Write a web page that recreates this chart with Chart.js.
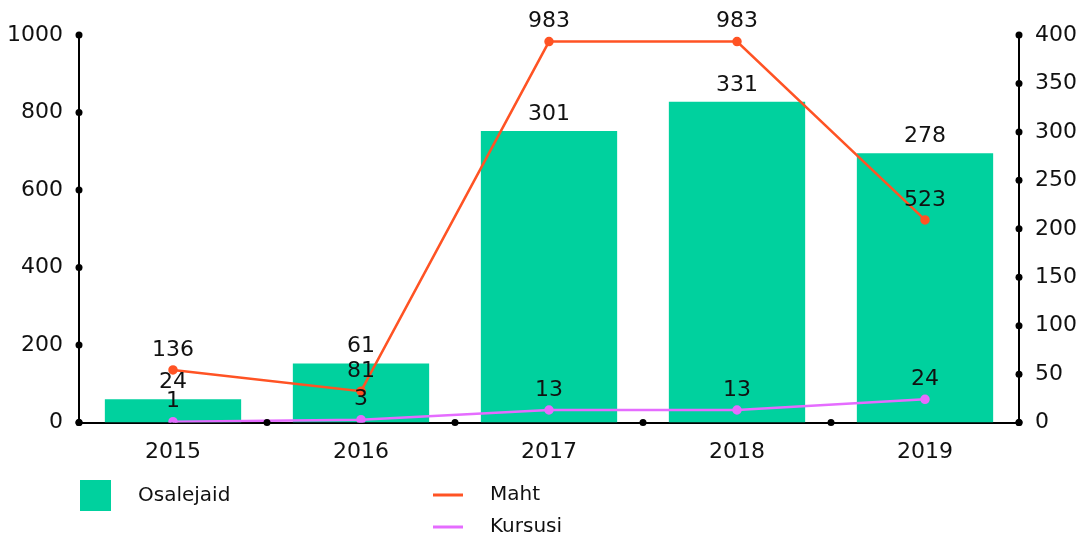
<!DOCTYPE html>
<html>
<head>
<meta charset="utf-8">
<script src="https://cdn.jsdelivr.net/npm/chart.js@4"></script>
<style>
  html, body { margin: 0; padding: 0; background: #fff; }
  #wrap { width: 1078px; height: 535px; position: relative; }
</style>
</head>
<body>
<div id="wrap"><canvas id="chart"></canvas></div>
<script>
const YEARS = ["2015", "2016", "2017", "2018", "2019"];
const OSALEJAID = [24, 61, 301, 331, 278];
const MAHT = [136, 81, 983, 983, 523];
const KURSUSI = [1, 3, 13, 13, 24];

const GREEN = "#00d19e";
const ORANGE = "#ff5324";
const PINK = "#e56cff";
const FONT = "'DejaVu Sans', sans-serif";

// draws the little black dots on the axis lines
const axisDots = {
  id: "axisDots",
  afterDraw(chart) {
    const { ctx, scales } = chart;
    ctx.save();
    ctx.fillStyle = "#000";
    const dot = (x, y) => {
      ctx.beginPath();
      ctx.arc(x, y, 3.5, 0, Math.PI * 2);
      ctx.fill();
    };
    const x = scales.x;
    const step = x.width / YEARS.length;
    for (let i = 0; i <= YEARS.length; i++) dot(x.left + i * step, x.top);
    scales.y.ticks.forEach((t) => dot(scales.y.right, scales.y.getPixelForValue(t.value)));
    scales.y1.ticks.forEach((t) => dot(scales.y1.left, scales.y1.getPixelForValue(t.value)));
    ctx.restore();
  },
};

// value labels above bars and points
const valueLabels = {
  id: "valueLabels",
  afterDatasetsDraw(chart) {
    const { ctx } = chart;
    ctx.save();
    ctx.font = "22px " + FONT;
    ctx.fillStyle = "#111";
    ctx.textAlign = "center";
    ctx.textBaseline = "middle";
    chart.data.datasets.forEach((ds, i) => {
      const meta = chart.getDatasetMeta(i);
      const off = ds.type === "bar" ? 17 : 20;
      meta.data.forEach((el, j) => {
        ctx.fillText(String(ds.data[j]), el.x, el.y - off);
      });
    });
    ctx.restore();
  },
};

// two-column legend under the chart
const bottomLegend = {
  id: "bottomLegend",
  afterDraw(chart) {
    const { ctx } = chart;
    ctx.save();
    ctx.font = "20px " + FONT;
    ctx.textBaseline = "middle";
    const ds = chart.data.datasets;
    ctx.fillStyle = ds[0].backgroundColor;
    ctx.fillRect(80, 480, 31, 31);
    ctx.fillStyle = "#111";
    ctx.fillText(ds[0].label, 138, 496);
    [[ds[1], 495], [ds[2], 527]].forEach(([d, y]) => {
      ctx.strokeStyle = d.borderColor;
      ctx.lineWidth = 3;
      ctx.beginPath();
      ctx.moveTo(433, y);
      ctx.lineTo(463, y);
      ctx.stroke();
      ctx.fillStyle = "#111";
      ctx.fillText(d.label, 490, y);
    });
    ctx.restore();
  },
};

const tickFont = { family: FONT, size: 22 };

new Chart(document.getElementById("chart"), {
  data: {
    labels: YEARS,
    datasets: [
      {
        type: "bar",
        label: "Osalejaid",
        data: OSALEJAID,
        backgroundColor: GREEN,
        yAxisID: "y1",
        barPercentage: 0.725,
        categoryPercentage: 1,
        order: 3,
      },
      {
        type: "line",
        label: "Maht",
        data: MAHT,
        borderColor: ORANGE,
        backgroundColor: ORANGE,
        borderWidth: 2.5,
        pointRadius: 3.5,
        yAxisID: "y",
        order: 1,
      },
      {
        type: "line",
        label: "Kursusi",
        data: KURSUSI,
        borderColor: PINK,
        backgroundColor: PINK,
        borderWidth: 2.5,
        pointRadius: 3.5,
        yAxisID: "y1",
        order: 2,
      },
    ],
  },
  options: {
    responsive: true,
    maintainAspectRatio: false,
    animation: false,
    layout: { padding: { left: 0, right: 0, top: 35, bottom: 62 } },
    plugins: {
      legend: { display: false },
      tooltip: { enabled: false },
    },
    scales: {
      x: {
        grid: { display: false },
        border: { display: true, color: "#000", width: 2 },
        ticks: { color: "#111", font: tickFont, padding: 8 },
      },
      y: {
        position: "left",
        min: 0,
        max: 1000,
        afterFit: (s) => { s.width = 79; },
        ticks: { stepSize: 200, color: "#111", font: tickFont, padding: 8, callback: (v) => String(v) },
        grid: { display: false },
        border: { display: true, color: "#000", width: 2 },
      },
      y1: {
        position: "right",
        min: 0,
        max: 400,
        afterFit: (s) => { s.width = 59; },
        ticks: { stepSize: 50, color: "#111", font: tickFont, padding: 8, callback: (v) => String(v) },
        grid: { display: false },
        border: { display: true, color: "#000", width: 2 },
      },
    },
  },
  plugins: [axisDots, valueLabels, bottomLegend],
});
</script>
</body>
</html>
